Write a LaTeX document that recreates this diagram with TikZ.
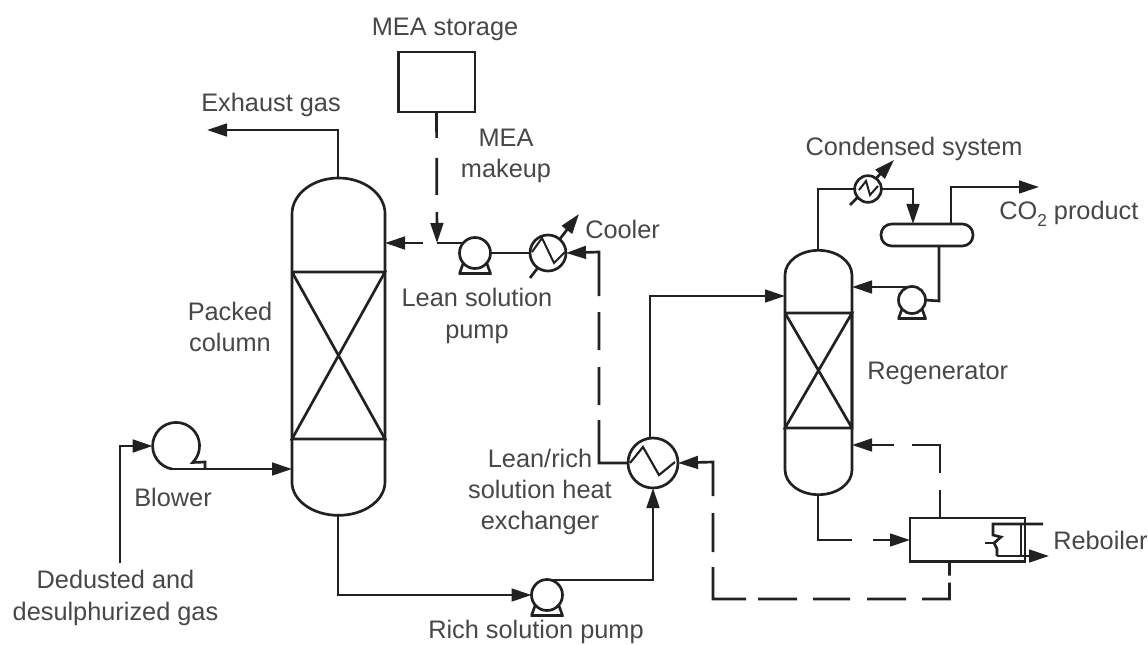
\documentclass[tikz,border=0pt]{standalone}
\usepackage{fontspec}
\setmainfont{Liberation Sans}
\usetikzlibrary{arrows.meta,calc}
\definecolor{txt}{gray}{0.28}
\definecolor{ln}{gray}{0.13}
\tikzset{
  x=0.75pt,y=-0.75pt,
  pipe/.style={draw=ln,line width=2pt},
  flow/.style={pipe,-{Triangle[length=15pt,width=9.5pt]}},
  lbl/.style={text=txt,font=\fontsize{19pt}{23.5pt}\selectfont,align=center,inner sep=0pt},
  ring/.style={circle,draw=ln,line width=2pt,fill=white,inner sep=0pt,outer sep=0pt},
  box/.style={rectangle,draw=ln,line width=2pt,fill=white,inner sep=0pt,outer sep=0pt},
  thinline/.style={draw=ln,line width=0.8pt},
}
% name, x, y, radius (px)
\newcommand{\pumpat}[4]{%
  \draw[pipe] (#2-#4-1,#3+#4+5) -- (#2+#4+1,#3+#4+5)
    (#2-#4+4,#3+#4-6) -- (#2-#4,#3+#4+5)
    (#2+#4-4,#3+#4-6) -- (#2+#4,#3+#4+5);
  \node[ring,minimum size=#4*1.5pt] (#1) at (#2,#3) {};
}
\begin{document}
\begin{tikzpicture}
\useasboundingbox (0,0) rectangle (1148,645);
\fill[white] (0,0) rectangle (1148,645);

% ---- packed column
\draw[pipe] (292,214) arc[start angle=180,end angle=0,x radius=34.9pt,y radius=27pt]
  -- (385,482) arc[start angle=0,end angle=-180,x radius=34.9pt,y radius=25pt] -- cycle;
\draw[pipe] (292,272) -- (385,272) -- (292,439) -- (385,439) -- (292,272);
\coordinate (colTop) at (338,178);
\coordinate (colBot) at (338,515);
\coordinate (colLean) at (385,243);
\coordinate (colGas) at (292,469);

% ---- regenerator
\draw[pipe] (785,275) arc[start angle=180,end angle=0,x radius=25.1pt,y radius=18.5pt]
  -- (852,470) arc[start angle=0,end angle=-180,x radius=25.1pt,y radius=18.5pt] -- cycle;
\draw[pipe] (785,313) -- (852,313) -- (785,428) -- (852,428) -- (852,313) (785,313) -- (852,428);
\coordinate (regTop) at (818,250);
\coordinate (regBot) at (818,495);
\coordinate (regFeed) at (785,296);
\coordinate (regReflux) at (852,287);
\coordinate (regBoil) at (852,445);

% ---- storage
\node[box,minimum width=57.5pt,minimum height=45pt] (store) at (436.5,82) {};

% ---- exchangers
\coordinate (coolA) at (530,278);
\coordinate (coolB) at (579,214);
\draw[flow] (coolA) -- (coolB);
\node[ring,minimum size=27pt] (cooler) at (548,253) {};
\draw[thinline,line width=1.5pt] (532,252) -- (542,238) -- (554,263) -- (565,252);

\node[ring,minimum size=37.5pt] (hx) at (653,463) {};
\draw[thinline,line width=1.6pt] (630,463) -- (643,447) -- (659,475) -- (675,462);

\coordinate (condA) at (850,205);
\coordinate (condB) at (894,160);
\draw[flow] (condA) -- (condB);
\node[ring,minimum size=20pt] (cond) at (868,189) {};
\draw[thinline,line width=1.5pt] (859,190) -- (866,181) -- (870,195) -- (878,186);

% ---- condenser drum
\node[box,rounded corners=8pt,minimum width=69pt,minimum height=16.5pt] (drum) at (927,235) {};

% ---- pumps and blower
\pumpat{pLean}{475}{253}{15.5}
\pumpat{pRich}{547}{595}{15.5}
\pumpat{pRefl}{912}{300}{13.5}

\node[circle,inner sep=0pt,outer sep=0pt,minimum size=35pt] (blower) at (176,446) {};
\coordinate (blowOut) at (172,469);
\draw[pipe] (blowOut) arc[start angle=-100,end angle=-405,radius=17.6pt] -- (205,462) -- (205,469);

% ---- reboiler
\node[box,minimum width=86.25pt,minimum height=32.5pt] (reb) at (967.5,539.5) {};
\coordinate (rebIn) at (910,540);
\coordinate (rebSteamIn) at (1043,524);
\coordinate (rebSteamOut) at (1049,556);
\draw[thinline] (1021,524) -- (1021,556);
\draw[pipe] (rebSteamIn) -- (993,524) -- (993,535) -- (1001,537) -- (994,543) -- (997,549) -- (997,556);
\draw[pipe] (985,543) -- (994,543);
\draw[flow] (997,556) -- (rebSteamOut);

% ---- connectors
\coordinate (exh) at (207,130);
\draw[flow] (colTop) -- (338,130) -- (exh);

\coordinate (mix) at (437,243);
\draw[flow,dash pattern=on 19.5pt off 15pt on 27.75pt off 12.75pt on 100pt off 1pt] (store.south) -- (mix);
\draw[pipe] (mix) -- (463,243);
\coordinate (gapL) at (423,243);
\draw[flow] (gapL) -- (colLean);
\draw[pipe] (pLean.east) -- (cooler.west);
\draw[flow,dash pattern=on 54pt off 11.25pt on 28.5pt off 12.75pt on 28.5pt off 12pt on 300pt off 1pt] (hx.west) -- (599,463) -- (599,252) -- (cooler.east);

\coordinate (gasIn) at (120,563);
\draw[flow] (gasIn) -- (120,446) -- (blower.west);
\draw[flow] (blowOut) -- (colGas);

\draw[flow] (colBot) -- (338,595) -- (pRich.west);
\draw[flow] (545,580) -- (653,580) -- (hx.south);
\draw[flow] (650,438) -- (650,296) -- (regFeed);

\draw[pipe] (regTop) -- (818,189) -- (cond.west);
\draw[flow] (cond.east) -- (913,189) -- (913,224);
\draw[flow] (951,224) -- (951,187) -- (1039,187);
\draw[pipe] (939,246) -- (939,301) -- (pRefl.east);
\draw[flow] (912,287) -- (regReflux);

\draw[flow,dash pattern=on 59.25pt off 15.75pt on 100pt off 1pt] (regBot) -- (818,540) -- (rebIn);
\draw[flow,dash pattern=on 21pt off 12.75pt on 42pt off 13.5pt on 100pt off 1pt] (940,518) -- (940,445) -- (regBoil);
\draw[flow,dash pattern=on 10.5pt off 5.25pt on 33pt off 12pt on 29.25pt off 12.75pt on 27.75pt off 12pt on 29.25pt off 9pt on 48.75pt off 11.25pt on 29.25pt off 12.75pt on 150pt off 1pt] (949.5,561.5) -- (949.5,599) -- (713,599) -- (713,462) -- (hx.east);

% ---- labels
\node[lbl] (t1) at (445,29.5) {MEA storage};
\node[lbl] (t2) at (271,105) {Exhaust gas};
\node[lbl] (t3) at (506,156) {MEA\\makeup};
\node[lbl] (t4) at (230,327) {Packed\\column};
\node[lbl] (t5) at (173,497) {Blower};
\node[lbl] (t6) at (115.5,598) {Dedusted and\\desulphurized gas};
\node[lbl] (t7) at (536,632) {Rich solution pump};
\node[lbl] (t8) at (477,316) {Lean solution\\pump};
\node[lbl,anchor=west] (t9) at (585,229) {Cooler};
\node[lbl] (t10) at (540,492) {Lean/rich\\solution heat\\exchanger};
\node[lbl] (t11) at (914,149) {Condensed system};
\node[lbl,anchor=west] (t12) at (999,214) {CO\raisebox{-0.3em}{\fontsize{13pt}{13pt}\selectfont 2} product};
\node[lbl,anchor=west] (t13) at (867,373) {Regenerator};
\node[lbl,anchor=west] (t14) at (1053,540) {Reboiler};
\end{tikzpicture}
\end{document}
